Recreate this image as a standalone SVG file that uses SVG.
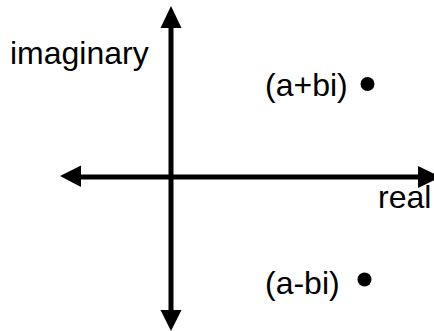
<svg xmlns="http://www.w3.org/2000/svg" width="434" height="331" viewBox="0 0 434 331">
<style>
.ax{stroke:#000;stroke-width:5;fill:none}
.hd{fill:#000}
.t{font-family:"Liberation Sans",Arial,sans-serif;font-size:32px;fill:#000}
</style>
<rect width="434" height="331" fill="#fff"/>
<g id="connectors">
<line class="ax" x1="171" y1="26" x2="171" y2="312"/>
<polygon class="hd" points="171,6 160.5,28 181.5,28"/>
<polygon class="hd" points="171,331 160.5,310 181.5,310"/>
<line class="ax" x1="80" y1="177" x2="420" y2="177"/>
<polygon class="hd" points="60,176 81,165.5 81,187"/>
<polygon class="hd" points="441,177 418,166 418,188"/>
</g>
<g id="label-imaginary"><text class="t" x="10" y="64">imaginary</text></g>
<g id="label-real"><text class="t" x="378" y="208">real</text></g>
<g id="point-a-plus-bi">
<text class="t" x="265" y="96">(a+bi)</text>
<circle cx="367.5" cy="84" r="7"/>
</g>
<g id="point-a-minus-bi">
<text class="t" x="265" y="294">(a-bi)</text>
<circle cx="364.5" cy="279.5" r="7"/>
</g>
</svg>
